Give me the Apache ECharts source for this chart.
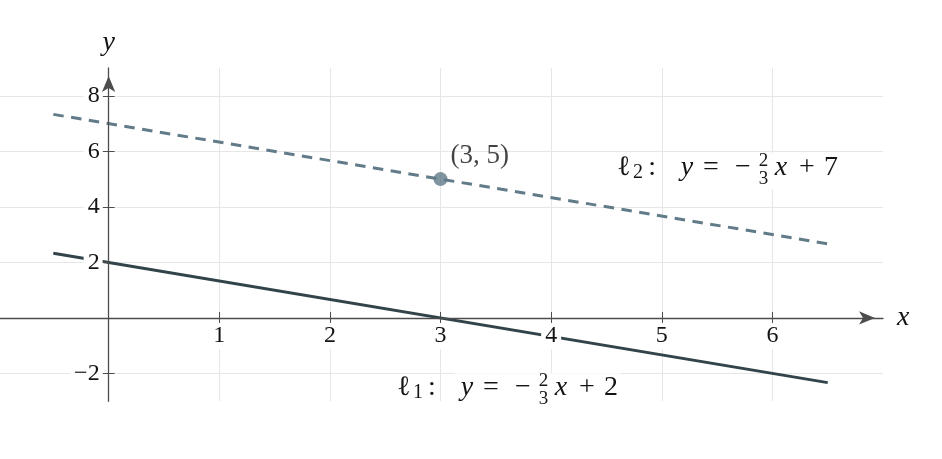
<!DOCTYPE html>
<html><head><meta charset="utf-8">
<script src="https://cdn.jsdelivr.net/npm/echarts@6/dist/echarts.min.js"></script>
<style>html,body{margin:0;padding:0;background:#fff}#c{width:942px;height:459px}</style>
</head><body><div id="c"></div>
<script>
// ---- data ----
const xRange = [-1, 7];
const yRange = [-3, 9];
const xTicks = [1, 2, 3, 4, 5, 6];
const yTicks = [-2, 2, 4, 6, 8];
const line1 = [[-0.5, 2.33], [6.5, -2.33]];   // l1: y = -2/3 x + 2
const line2 = [[-0.5, 7.33], [6.5, 2.67]];    // l2: y = -2/3 x + 7
const pointXY = [3, 5];
const eqAnchors = [[5.59, 5.42], [3.6, -2.5]]; // label centres (l2, l1)
const eqSubs = ['2', '1'];
const eqConsts = ['7', '2'];

const FONT = '"Liberation Serif", "DejaVu Serif", serif';
const INK = '#141414';
const AXIS = '#4d4d4d';
const GRID = '#e6e6e6';
const C1 = '#30444a';
const C2 = '#627b88';

const fmtNum = v => (v < 0 ? '\u2212' + Math.abs(v) : String(v));

function renderEq(params, api) {
  const i = api.value(2);
  const c = api.coord([api.value(0), api.value(1)]);
  const left = c[0] - 112, y0 = c[1];
  const t = (s, dx, dy, size, italic) => ({
    type: 'text',
    style: {
      text: s, x: left + dx, y: y0 + dy, align: 'center', verticalAlign: 'middle',
      fontSize: size, fontFamily: FONT, fontStyle: italic ? 'italic' : 'normal', fill: INK
    }
  });
  return {
    type: 'group',
    children: [
      { type: 'rect', shape: { x: left - 2, y: y0 - 13, width: 43, height: 26 }, style: { fill: '#fff' } },
      { type: 'rect', shape: { x: left + 60, y: y0 - 14, width: 166, height: 36 }, style: { fill: '#fff' } },
      t('\u2113', 9, 0, 28, false),
      t(eqSubs[i], 23, 5, 20, false),
      t(':', 37, 0, 28, false),
      t('y', 72, 0, 28, true),
      t('=', 96, 0, 28, false),
      t('\u2212', 128, 0, 28, false),
      t('2', 148.5, -6, 19, false),
      t('3', 148.5, 12, 19, false),
      t('x', 166, 0, 28, true),
      t('+', 192, 0, 28, false),
      t(eqConsts[i], 216, 0, 28, false)
    ]
  };
}

const chart = echarts.init(document.getElementById('c'), null, { renderer: 'canvas' });
const arrowLine = {
  show: true, onZero: false,
  lineStyle: { color: AXIS, width: 1.3 },
  symbol: ['none', 'arrow'], symbolSize: [10, 16], symbolOffset: [0, -8]
};
const hiddenLine = { show: true, onZero: false, lineStyle: { color: AXIS, opacity: 0 } };
chart.setOption({
  animation: false,
  backgroundColor: '#fff',
  grid: { left: -2, right: 59, top: 68, bottom: 57.75, containLabel: false, outerBoundsMode: 'none' },
  xAxis: [
    {
      type: 'value', min: xRange[0], max: xRange[1], position: 'bottom', z: 0, offset: 0,
      axisLine: hiddenLine,
      axisLabel: { show: false },
      splitLine: { show: true, lineStyle: { color: GRID, width: 1 } },
      axisTick: { show: true, inside: true, length: 6, customValues: xTicks, lineStyle: { color: AXIS, opacity: 1 } }
    },
    {
      type: 'value', min: xRange[0], max: xRange[1], position: 'bottom', z: 5, offset: 0,
      axisLine: arrowLine,
      axisTick: { show: true, inside: false, length: 6, customValues: xTicks, lineStyle: { color: AXIS } },
      axisLabel: {
        show: true, customValues: xTicks, margin: 5, padding: [1, 4], backgroundColor: '#fff',
        fontFamily: FONT, fontSize: 24, color: INK, formatter: fmtNum
      },
      splitLine: { show: false },
      name: 'x', nameLocation: 'end', nameGap: 14,
      nameTextStyle: { fontFamily: FONT, fontStyle: 'italic', fontSize: 28, color: INK }
    }
  ],
  yAxis: [
    {
      type: 'value', min: yRange[0], max: yRange[1], position: 'left', z: 0, offset: 0,
      axisLine: hiddenLine,
      axisLabel: { show: false },
      splitLine: { show: true, lineStyle: { color: GRID, width: 1 } },
      axisTick: { show: true, inside: true, length: 6, customValues: yTicks, lineStyle: { color: AXIS, opacity: 1 } }
    },
    {
      type: 'value', min: yRange[0], max: yRange[1], position: 'left', z: 5, offset: 0,
      axisLine: arrowLine,
      axisTick: { show: true, inside: false, length: 6, customValues: yTicks, lineStyle: { color: AXIS } },
      axisLabel: {
        show: true, customValues: yTicks, margin: 6, padding: [1, 3, 1, 4], backgroundColor: '#fff',
        fontFamily: FONT, fontSize: 24, color: INK, formatter: fmtNum
      },
      splitLine: { show: false },
      name: 'y', nameLocation: 'end', nameGap: 11,
      nameTextStyle: { fontFamily: FONT, fontStyle: 'italic', fontSize: 28, color: INK }
    }
  ],
  series: [
    {
      type: 'line', name: 'l1', data: line1, xAxisIndex: 0, yAxisIndex: 0, z: 2,
      showSymbol: false, symbol: 'none', lineStyle: { color: C1, width: 3 }
    },
    {
      type: 'line', name: 'l2', data: line2, xAxisIndex: 0, yAxisIndex: 0, z: 2,
      showSymbol: false, symbol: 'none', lineStyle: { color: C2, width: 3, type: [10.5, 7.5] }
    },
    {
      type: 'scatter', name: 'P', data: [pointXY], xAxisIndex: 0, yAxisIndex: 0, z: 4,
      symbol: 'circle', symbolSize: 14, itemStyle: { color: C2 },
      label: {
        show: true, position: 'right', distance: 5, offset: [-2, -23],
        formatter: p => '(' + p.value[0] + ', ' + p.value[1] + ')',
        fontFamily: FONT, fontSize: 27, color: INK
      }
    },
    {
      type: 'custom', name: 'eq', xAxisIndex: 0, yAxisIndex: 0, z: 3,
      data: eqAnchors.map((a, i) => [a[0], a[1], i]),
      renderItem: renderEq, silent: true
    }
  ]
});

// Move the axes onto the zero lines (through the library's own scales).
const zeroX = chart.convertToPixel({ xAxisIndex: 0 }, 0);
const leftX = chart.convertToPixel({ xAxisIndex: 0 }, xRange[0]);
const zeroY = chart.convertToPixel({ yAxisIndex: 0 }, 0);
const bottomY = chart.convertToPixel({ yAxisIndex: 0 }, yRange[0]);
const xOff = zeroY - bottomY, yOff = leftX - zeroX;
chart.setOption({
  xAxis: [{ offset: xOff }, { offset: xOff }],
  yAxis: [{ offset: yOff }, { offset: yOff }]
});
</script>
</body></html>
